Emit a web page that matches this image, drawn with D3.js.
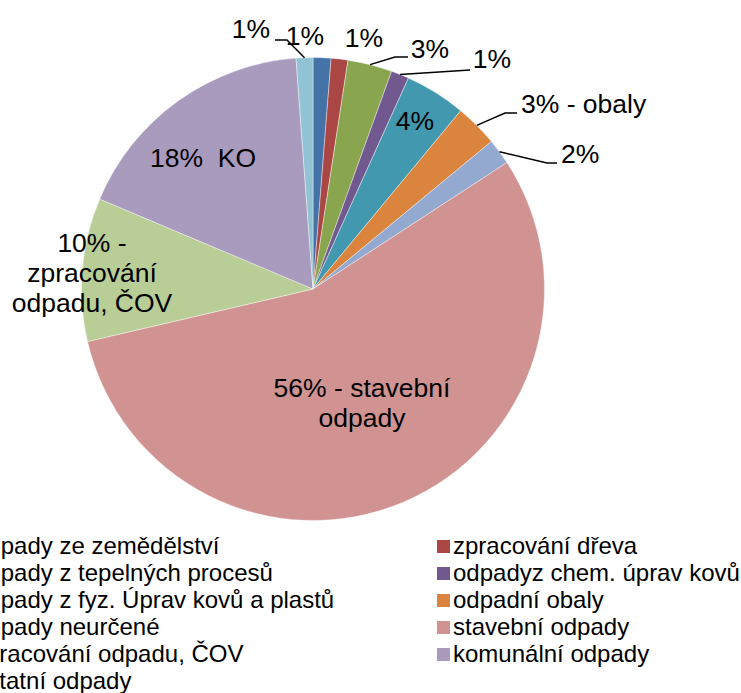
<!DOCTYPE html>
<html>
<head>
<meta charset="utf-8">
<script src="https://cdn.jsdelivr.net/npm/d3@7"></script>
<style>
  body { margin: 0; background: #fff; }
  svg { display: block; font-family: "Liberation Sans", Arial, sans-serif; }
  text { white-space: pre; }
</style>
</head>
<body>
<div id="chart"></div>
<script>
const width = 741
const height = 693

// data
const categories = [
    "odpady ze zemědělství", "zpracování dřeva", "odpady z tepelných procesů",
    "odpadyz chem. úprav kovů", "odpady z fyz. Úprav kovů a plastů", "odpadní obaly",
    "odpady neurčené", "stavební odpady", "zpracování odpadu, ČOV",
    "komunální odpady", "ostatní odpady"
]
const values = [1.25, 1.17, 3.1, 1.25, 4.25, 3.0, 1.8, 55.6, 10.0, 17.5, 1.17]
const labelTexts = [
    ["1%"], ["1%"], ["3%"], ["1%"], ["4%"], ["3% - obaly"], ["2%"],
    ["56% - stavební", "odpady"], ["10% -", "zpracování", "odpadu, ČOV"],
    ["18%  KO"], ["1%"]
]
const colors = ["#4572A7", "#AA4643", "#89A54E", "#71588F", "#4198AF", "#DB843D",
    "#93A9CF", "#D19392", "#B9CD96", "#A99BBD", "#92C3D4"]

// label placement (x, baseline y, anchor, elbow/end of leader line)
const labelLayout = [
    {x: 305, y: 45, anchor: "middle"},
    {x: 364, y: 47, anchor: "middle"},
    {x: 430, y: 58, anchor: "middle", leader: [[395, 57], [408, 57]]},
    {x: 492, y: 68, anchor: "middle", leader: [[470, 70]]},
    {x: 415, y: 130, anchor: "middle"},
    {x: 521, y: 113, anchor: "start", leader: [[505, 113], [517, 113]]},
    {x: 561, y: 163, anchor: "start", leader: [[547, 163], [557, 163]]},
    {x: 362, y: 397, anchor: "middle"},
    {x: 92, y: 252, anchor: "middle"},
    {x: 203, y: 167, anchor: "middle"},
    {x: 251, y: 38, anchor: "middle", leader: [[287, 40], [275, 40]]}
]

const cx = 313, cy = 289, radius = 231.5

const svg = d3.select("#chart").append("svg").attr("width", width).attr("height", height)
const pieGroup = svg.append("g").attr("transform", `translate(${cx}, ${cy})`)

const pie = d3.pie().sort(null).value(d => d)
const arc = d3.arc().innerRadius(0).outerRadius(radius)
const arcs = pie(values)

pieGroup.selectAll("path").data(arcs).enter()
    .append("path")
    .attr("d", arc)
    .attr("fill", (d, i) => colors[i])
    .attr("stroke", "#fff")
    .attr("stroke-opacity", 0.5)
    .attr("stroke-width", 0.8)

// leader lines
const leaderGroup = svg.append("g")
arcs.forEach((d, i) => {
    const lay = labelLayout[i]
    if (!lay.leader) return
    const mid = (d.startAngle + d.endAngle) / 2
    const p0 = [cx + radius * Math.sin(mid), cy - radius * Math.cos(mid)]
    leaderGroup.append("path")
        .attr("d", d3.line()([p0, ...lay.leader]))
        .attr("fill", "none")
        .attr("stroke", "#000")
        .attr("stroke-width", 1.5)
})

// data labels
const labelGroup = svg.append("g")
labelTexts.forEach((lines, i) => {
    const lay = labelLayout[i]
    const t = labelGroup.append("text")
        .attr("text-anchor", lay.anchor)
        .attr("font-size", 26.5)
        .attr("fill", "#000")
    lines.forEach((line, j) => {
        t.append("tspan").attr("x", lay.x).attr("y", lay.y + j * 30).text(line)
    })
})

// legend: two columns, row-major
const legendGroup = svg.append("g")
const colX = [-26, 453]
categories.forEach((name, i) => {
    const col = i % 2
    const row = Math.floor(i / 2)
    const by = 554 + row * 27
    legendGroup.append("rect")
        .attr("x", colX[col] - 16).attr("y", by - 14)
        .attr("width", 13).attr("height", 13)
        .attr("fill", colors[i])
    legendGroup.append("text")
        .attr("x", colX[col]).attr("y", by)
        .attr("font-size", 24)
        .attr("fill", "#000")
        .text(name)
})
</script>
</body>
</html>
